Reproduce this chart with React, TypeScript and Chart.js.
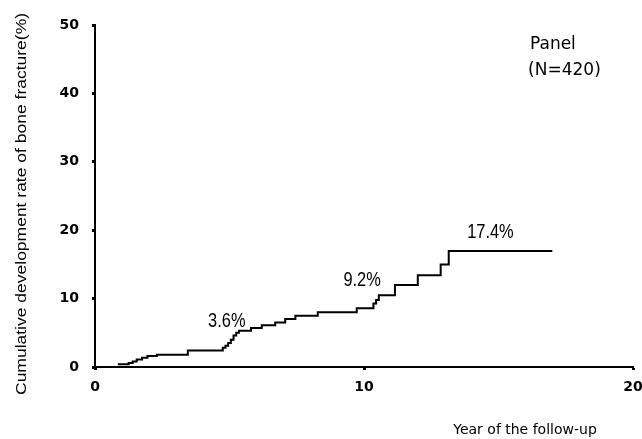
import React, { useEffect, useRef } from 'react';
import { Chart, registerables } from 'chart.js';

Chart.register(...registerables);

// Follow-up year at which each cumulative rate begins (step curve)
const years = [0.85, 1.25, 1.4, 1.55, 1.75, 1.95, 2.3, 3.45, 4.75, 4.85, 4.95, 5.05, 5.15, 5.25, 5.35, 5.8, 6.2, 6.7, 7.07, 7.45, 8.28, 9.73, 10.35, 10.45, 10.55, 11.15, 12.0, 12.85, 13.15, 17.0];
// Cumulative development rate of bone fracture (%)
const rates = [0.4, 0.6, 0.8, 1.1, 1.35, 1.6, 1.8, 2.4, 2.8, 3.1, 3.5, 4.0, 4.6, 5.0, 5.3, 5.7, 6.1, 6.5, 7.0, 7.5, 8.0, 8.6, 9.3, 9.8, 10.5, 12.0, 13.4, 15.0, 16.95, 16.95];

const xTicks = [0, 10, 20];
const yTicks = [0, 10, 20, 30, 40, 50];

const annoLabels = ['3.6%', '9.2%', '17.4%'];
const annoX = [4.9, 9.93, 14.7];
const annoY = [6.7, 12.6, 19.7];

const panelLines = ['Panel', '(N=420)'];
const panelX = [16.17, 16.1];
const panelY = [47.1, 43.4];

const yTitle = 'Cumulative development rate of bone fracture(%)';
const xTitle = 'Year of the follow-up';

const textPlugin = {
  id: 'textPlugin',
  afterDraw(chart: any) {
    const { ctx, scales } = chart;
    const xs = scales.x;
    const ys = scales.y;
    ctx.save();
    ctx.fillStyle = '#000';
    ctx.textBaseline = 'middle';
    ctx.textAlign = 'center';
    ctx.font = '20px "Liberation Sans", Arial, sans-serif';
    annoLabels.forEach((t, i) => {
      ctx.save();
      ctx.translate(xs.getPixelForValue(annoX[i]), ys.getPixelForValue(annoY[i]));
      ctx.scale(0.82, 1);
      ctx.fillText(t, 0, 0);
      ctx.restore();
    });
    ctx.textAlign = 'left';
    ctx.font = '17px "DejaVu Sans", sans-serif';
    panelLines.forEach((t, i) => {
      ctx.fillText(t, xs.getPixelForValue(panelX[i]), ys.getPixelForValue(panelY[i]));
    });
    ctx.textAlign = 'center';
    ctx.font = '14px "DejaVu Sans", sans-serif';
    ctx.fillText(xTitle, 525, 430);
    ctx.translate(22, 204);
    ctx.rotate(-Math.PI / 2);
    ctx.font = '14px "Liberation Sans", Arial, sans-serif';
    const w = ctx.measureText(yTitle).width;
    ctx.scale(382 / w, 1);
    ctx.fillText(yTitle, 0, 0);
    ctx.restore();
  },
};

export default function App() {
  const ref = useRef<HTMLCanvasElement | null>(null);
  useEffect(() => {
    if (!ref.current) return;
    const chart = new Chart(ref.current, {
      type: 'line',
      data: {
        datasets: [
          {
            data: years.map((x, i) => ({ x, y: rates[i] })),
            borderColor: '#000',
            borderWidth: 2,
            pointRadius: 0,
            stepped: 'before',
            fill: false,
          },
        ],
      },
      options: {
        responsive: false,
        animation: false,
        layout: { padding: { top: 25, right: 9, left: 0, bottom: 0 } },
        plugins: { legend: { display: false }, tooltip: { enabled: false } },
        scales: {
          x: {
            type: 'linear',
            min: 0,
            max: 20,
            afterBuildTicks: (s: any) => { s.ticks = xTicks.map((v) => ({ value: v })); },
            afterFit: (s: any) => { s.height = 72; s.paddingRight = 0; s.paddingLeft = 0; },
            ticks: {
              color: '#000',
              padding: 9,
              maxRotation: 0,
              font: { family: '"DejaVu Sans", sans-serif', size: 14, weight: 'bold' },
            },
            grid: { drawOnChartArea: false, drawTicks: true, tickLength: 3, tickWidth: 3, color: '#000' },
            border: { color: '#000', width: 2 },
          },
          y: {
            min: 0,
            max: 50,
            afterBuildTicks: (s: any) => { s.ticks = yTicks.map((v) => ({ value: v })); },
            afterFit: (s: any) => { s.width = 95; s.paddingTop = 0; s.paddingBottom = 0; },
            ticks: {
              color: '#000',
              padding: 13,
              font: { family: '"DejaVu Sans", sans-serif', size: 14, weight: 'bold' },
            },
            grid: { drawOnChartArea: false, drawTicks: true, tickLength: 3, tickWidth: 3, color: '#000' },
            border: { color: '#000', width: 2 },
          },
        },
      },
      plugins: [textPlugin],
    });
    return () => chart.destroy();
  }, []);
  return (
    <div style={{ position: 'fixed', left: 0, top: 0, width: 642, height: 439, background: '#fff' }}>
      <canvas ref={ref} width={642} height={439} />
    </div>
  );
}
